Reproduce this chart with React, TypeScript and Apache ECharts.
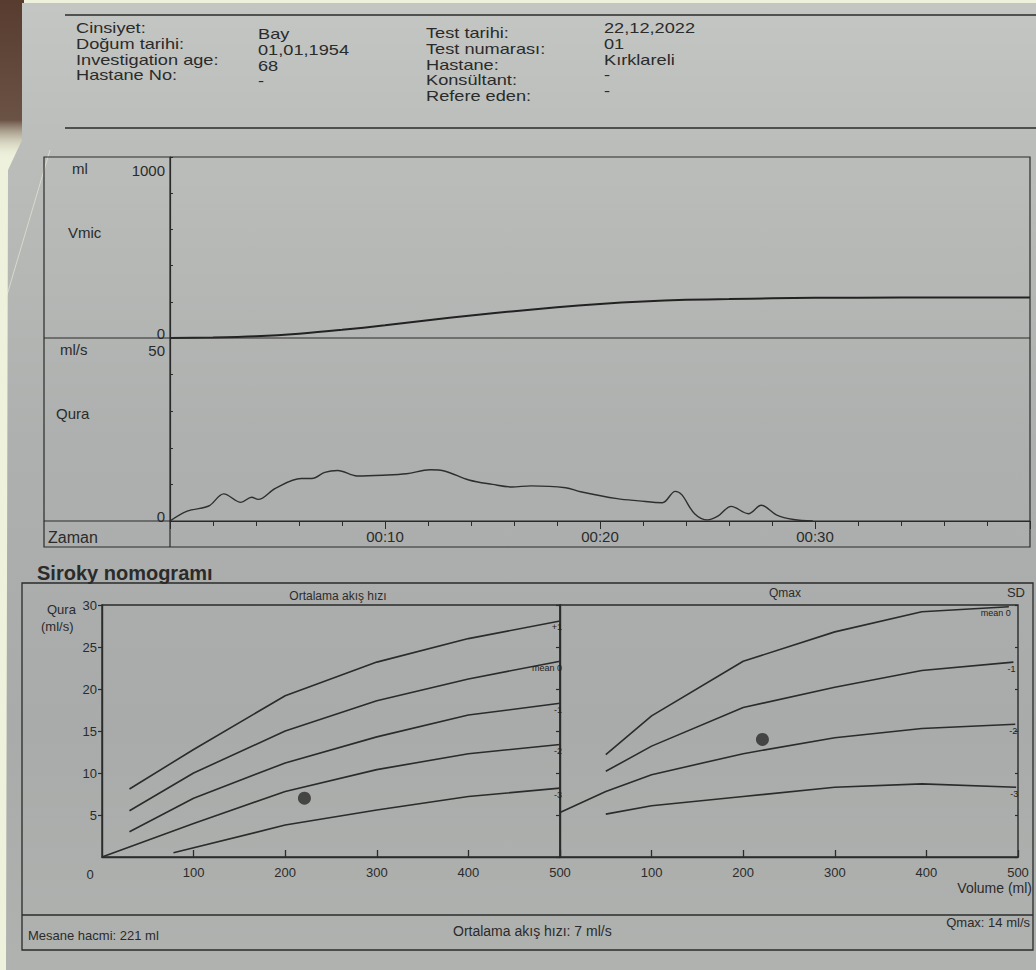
import React, { useEffect, useRef } from "react";
import * as echarts from "echarts";

// ---------- data ----------
const headerLabelsLeft = ["Cinsiyet:", "Doğum tarihi:", "Investigation age:", "Hastane No:"];
const headerValuesLeft = ["Bay", "01,01,1954", "68", "-"];
const headerLabelsRight = ["Test tarihi:", "Test numarası:", "Hastane:", "Konsültant:", "Refere eden:"];
const headerValuesRight = ["22,12,2022", "01", "Kırklareli", "-", "-"];

// voided volume (ml) over time (s)
const vmicTime = [0, 2, 4, 6, 8, 10, 12, 14, 16, 18, 20, 22, 24, 26, 28, 30, 32, 36, 40];
const vmicVolume = [0, 3, 10, 24, 45, 70, 98, 124, 148, 170, 188, 202, 211, 215, 219, 222, 223, 224, 224];

// flow rate (ml/s) over time (s)
const flowTime = [0, 0.8, 1.8, 2.5, 3.3, 3.8, 4.1, 4.9, 6.1, 6.6, 7.2, 7.8, 8.7, 9.9, 11.0, 12.1, 12.8, 13.9, 15.0, 15.9, 16.8, 18.4, 19.1, 20.8, 21.8, 22.9, 23.5, 23.8, 24.4, 25.0, 25.5, 26.1, 26.9, 27.5, 28.2, 29.0, 29.9];
const flowRate = [0, 2.7, 4.1, 7.4, 5.1, 6.5, 5.9, 8.9, 11.6, 11.6, 13.3, 13.8, 12.3, 12.5, 12.9, 14.0, 13.6, 11.2, 10.0, 9.3, 9.6, 9.1, 8.0, 6.1, 5.5, 5.0, 8.1, 7.2, 2.0, 0.3, 1.4, 4.0, 2.0, 4.3, 1.7, 0.4, 0];

// Siroky nomogram – average flow rate (left)
const avgVolume = [30, 100, 200, 300, 400, 500];
const avgPlus1 = [8.1, 12.8, 19.2, 23.2, 26.0, 28.1];
const avgMean0 = [5.5, 10.0, 15.0, 18.6, 21.2, 23.3];
const avgMinus1 = [3.0, 7.0, 11.2, 14.3, 16.9, 18.3];
const avgMinus2Volume = [0, 100, 200, 300, 400, 500];
const avgMinus2 = [0, 4.0, 7.8, 10.4, 12.3, 13.4];
const avgMinus3Volume = [78, 200, 300, 400, 500];
const avgMinus3 = [0.5, 3.8, 5.6, 7.2, 8.2];

// Siroky nomogram – Qmax (right)
const qMean0Volume = [50, 100, 200, 300, 395, 490];
const qMean0 = [12.2, 16.8, 23.3, 26.8, 29.2, 29.8];
const qMinus1Volume = [50, 100, 200, 300, 395, 495];
const qMinus1 = [10.2, 13.2, 17.8, 20.2, 22.2, 23.2];
const qMinus2Volume = [0, 50, 100, 200, 300, 395, 497];
const qMinus2 = [5.3, 7.8, 9.8, 12.3, 14.2, 15.3, 15.8];
const qMinus3Volume = [50, 100, 200, 300, 395, 498];
const qMinus3 = [5.1, 6.1, 7.2, 8.3, 8.7, 8.3];

const patientVolume = 221;
const patientAvgFlow = 7;
const patientQmax = 14;

// ---------- style ----------
const FONT = '"Liberation Sans", Arial, sans-serif';
const INK = "#2a2b2b";

function txt(x: number, y: number, text: string, size: number, opts: any = {}) {
  return {
    type: "text",
    x,
    y,
    z: 20,
    silent: true,
    scaleX: opts.scaleX || 1,
    style: {
      text,
      fill: opts.color || INK,
      fontSize: size,
      fontFamily: FONT,
      fontWeight: opts.bold ? "bold" : "normal",
      align: opts.align || "left",
      verticalAlign: "middle",
    },
  };
}
function ln(x1: number, y1: number, x2: number, y2: number, w = 1.3, color = INK) {
  return { type: "line", z: 15, silent: true, shape: { x1, y1, x2, y2 }, style: { stroke: color, lineWidth: w } };
}
function box(x: number, y: number, w: number, h: number, lw = 1.3) {
  return { type: "rect", z: 15, silent: true, shape: { x, y, width: w, height: h }, style: { fill: "none", stroke: INK, lineWidth: lw } };
}

function pairs(xs: number[], ys: number[]) {
  return xs.map((x, i) => [x, ys[i]]);
}

function nomoLine(name: string, xi: number, yi: number, xs: number[], ys: number[], label: string) {
  return {
    type: "line",
    name,
    xAxisIndex: xi,
    yAxisIndex: yi,
    data: pairs(xs, ys),
    symbol: "none",
    silent: true,
    color: INK,
    lineStyle: { color: INK, width: 1.6 },
    endLabel: {
      show: true,
      formatter: label,
      fontSize: 9,
      fontFamily: FONT,
      color: "#222",
      align: "right",
      verticalAlign: "top",
      offset: [-6, 2],
    },
  };
}

export default function App() {
  const ref = useRef<HTMLDivElement>(null);

  useEffect(() => {
    document.body.style.margin = "0";
    const chart = echarts.init(ref.current!, undefined, { renderer: "svg" });

    const graphics: any[] = [];
    // backgrounds
    graphics.push({ type: "rect", z: -100, silent: true, shape: { x: 0, y: 0, width: 1036, height: 970 }, style: { fill: "#eef2dc" } });
    graphics.push({
      type: "rect",
      z: -95,
      silent: true,
      shape: { x: 0, y: 0, width: 24, height: 160 },
      style: {
        fill: new echarts.graphic.LinearGradient(0, 0, 0, 1, [
          { offset: 0, color: "#573c2f" },
          { offset: 0.75, color: "#6a5245" },
          { offset: 1, color: "rgba(238,242,220,0)" },
        ]),
      },
    });
    graphics.push({
      type: "polygon",
      z: -90,
      silent: true,
      shape: { points: [[22, 3], [1036, 3], [1036, 970], [6, 970], [8, 170], [22, 140]] },
      style: {
        fill: new echarts.graphic.LinearGradient(0, 0, 0, 1, [
          { offset: 0, color: "#c4c6c3" },
          { offset: 0.15, color: "#bbbdba" },
          { offset: 0.45, color: "#aeb0af" },
          { offset: 0.75, color: "#a9abaa" },
          { offset: 1, color: "#b0b2b0" },
        ]),
      },
    });
    graphics.push({ type: "line", z: -70, silent: true, shape: { x1: 2, y1: 312, x2: 50, y2: 150 }, style: { stroke: "rgba(236,240,218,0.6)", lineWidth: 1 } });

    // header
    graphics.push(ln(65, 15, 1036, 15, 1.6));
    graphics.push(ln(65, 128, 1036, 128, 1.6));
    const hy = [28, 44, 60, 75, 91];
    const SX = 1.3;
    headerLabelsLeft.forEach((s, i) => graphics.push(txt(76, hy[i], s, 14, { scaleX: SX })));
    headerValuesLeft.forEach((s, i) => graphics.push(txt(258, hy[i] + 6, s, 14, { scaleX: SX })));
    headerLabelsRight.forEach((s, i) => graphics.push(txt(426, hy[i] + 5, s, 14, { scaleX: SX })));
    headerValuesRight.forEach((s, i) => graphics.push(txt(604, hy[i], s, 14, { scaleX: SX })));

    // upper chart frame
    graphics.push(box(44, 157, 986, 390, 1.2));
    graphics.push(ln(44, 338, 1030, 338, 1.2));
    graphics.push(ln(44, 521, 1030, 521, 1.2));
    graphics.push(ln(170, 157, 170, 547, 1.2));
    graphics.push(txt(72, 168, "ml", 15));
    graphics.push(txt(68, 232, "Vmic", 15));
    graphics.push(txt(60, 349, "ml/s", 15));
    graphics.push(txt(56, 413, "Qura", 15));
    graphics.push(txt(48, 537, "Zaman", 16));

    // nomogram frame
    graphics.push(txt(37, 573, "Siroky nomogramı", 20, { bold: true }));
    graphics.push(box(22, 583, 1011, 367, 1.3));
    graphics.push(ln(22, 915, 1033, 915, 1.3));
    graphics.push(txt(338, 596, "Ortalama akış hızı", 12, { align: "center" }));
    graphics.push(txt(785, 593, "Qmax", 12, { align: "center" }));
    graphics.push(txt(1025, 592, "SD", 13, { align: "right" }));
    graphics.push(txt(47, 609, "Qura", 13));
    graphics.push(txt(41, 626, "(ml/s)", 13));
    graphics.push(txt(90, 874, "0", 13, { align: "center" }));
    graphics.push(txt(1032, 888, "Volume (ml)", 14, { align: "right" }));
    graphics.push(txt(28, 935, "Mesane hacmi: " + patientVolume + " ml", 13));
    graphics.push(txt(453, 931, "Ortalama akış hızı: " + patientAvgFlow + " ml/s", 14));
    graphics.push(txt(1030, 922, "Qmax: " + patientQmax + " ml/s", 13, { align: "right" }));

    const axisText = { color: INK, fontFamily: FONT };
    const pad2 = (v: number) => (v < 10 ? "0" + v : "" + v);

    const option: any = {
      animation: false,
      textStyle: { fontFamily: FONT },
      grid: [
        { left: 170, top: 157, width: 860, height: 181, show: false },
        { left: 170, top: 338, width: 860, height: 183, show: false },
        { left: 102, top: 605, width: 458, height: 252, show: true, borderColor: INK, borderWidth: 1.4, backgroundColor: "transparent" },
        { left: 560, top: 605, width: 458, height: 252, show: true, borderColor: INK, borderWidth: 1.4, backgroundColor: "transparent" },
      ],
      xAxis: [
        { type: "value", gridIndex: 0, min: 0, max: 40, show: false },
        {
          type: "value",
          gridIndex: 1,
          min: 0,
          max: 40,
          interval: 10,
          axisLine: { show: true, lineStyle: { color: INK, width: 1.2 } },
          axisTick: { show: true, length: 8, lineStyle: { color: INK } },
          minorTick: { show: true, splitNumber: 5, length: 5, lineStyle: { color: INK } },
          splitLine: { show: false },
          axisLabel: {
            ...axisText,
            fontSize: 15,
            margin: 8,
            formatter: (v: number) => (v === 0 || v === 40 ? "" : "00:" + pad2(v)),
          },
        },
        {
          type: "value",
          gridIndex: 2,
          min: 0,
          max: 500,
          interval: 100,
          axisLine: { show: true, lineStyle: { color: INK, width: 1.4 } },
          axisTick: { show: true, inside: true, length: 7, lineStyle: { color: INK, width: 1.3 } },
          splitLine: { show: false },
          axisLabel: { ...axisText, fontSize: 13, margin: 9, showMinLabel: false },
        },
        {
          type: "value",
          gridIndex: 3,
          min: 0,
          max: 500,
          interval: 100,
          axisLine: { show: true, lineStyle: { color: INK, width: 1.4 } },
          axisTick: { show: true, inside: true, length: 7, lineStyle: { color: INK, width: 1.3 } },
          splitLine: { show: false },
          axisLabel: { ...axisText, fontSize: 13, margin: 9, showMinLabel: false },
        },
      ],
      yAxis: [
        {
          type: "value",
          gridIndex: 0,
          min: 0,
          max: 1000,
          interval: 200,
          axisLine: { show: true, lineStyle: { color: INK, width: 1.2 } },
          axisTick: { show: true, inside: true, length: 3, lineStyle: { color: INK } },
          splitLine: { show: false },
          axisLabel: {
            ...axisText,
            fontSize: 15,
            margin: 5,
            formatter: (v: number) => (v === 1000 ? "{t|1000}" : v === 0 ? "{b|0}" : ""),
            rich: {
              t: { fontSize: 15, color: INK, fontFamily: FONT, padding: [26, 0, 0, 0] },
              b: { fontSize: 15, color: INK, fontFamily: FONT, padding: [0, 0, 10, 0] },
            },
          },
        },
        {
          type: "value",
          gridIndex: 1,
          min: 0,
          max: 50,
          interval: 10,
          axisLine: { show: true, lineStyle: { color: INK, width: 1.2 } },
          axisTick: { show: true, inside: true, length: 3, lineStyle: { color: INK } },
          splitLine: { show: false },
          axisLabel: {
            ...axisText,
            fontSize: 15,
            margin: 5,
            formatter: (v: number) => (v === 50 ? "{t|50}" : v === 0 ? "{b|0}" : ""),
            rich: {
              t: { fontSize: 15, color: INK, fontFamily: FONT, padding: [24, 0, 0, 0] },
              b: { fontSize: 15, color: INK, fontFamily: FONT, padding: [0, 0, 10, 0] },
            },
          },
        },
        {
          type: "value",
          gridIndex: 2,
          min: 0,
          max: 30,
          interval: 5,
          axisLine: { show: true, lineStyle: { color: INK, width: 1.4 } },
          axisTick: { show: true, length: 4, lineStyle: { color: INK, width: 1.2 } },
          splitLine: { show: false },
          axisLabel: { ...axisText, fontSize: 13, margin: 5, showMinLabel: false },
        },
        {
          type: "value",
          gridIndex: 3,
          min: 0,
          max: 30,
          interval: 5,
          axisLine: { show: true, lineStyle: { color: INK, width: 1.4 } },
          axisTick: { show: true, length: 4, lineStyle: { color: INK, width: 1.2 } },
          splitLine: { show: false },
          axisLabel: { show: false },
        },
        {
          type: "value",
          gridIndex: 3,
          min: 0,
          max: 30,
          interval: 5,
          axisLine: { show: false },
          axisTick: { show: true, inside: true, length: 3, lineStyle: { color: INK, width: 1.2 } },
          splitLine: { show: false },
          axisLabel: { show: false },
        },
      ],
      graphic: graphics,
      series: [
        {
          type: "line",
          name: "Vmic",
          xAxisIndex: 0,
          yAxisIndex: 0,
          data: pairs(vmicTime, vmicVolume),
          symbol: "none",
          smooth: 0.3,
          silent: true,
          lineStyle: { color: "#222", width: 2 },
        },
        {
          type: "line",
          name: "Qura",
          xAxisIndex: 1,
          yAxisIndex: 1,
          data: pairs(flowTime, flowRate),
          symbol: "none",
          smooth: 0.35,
          silent: true,
          lineStyle: { color: "#2e2e2e", width: 1.4 },
        },
        nomoLine("avg +1", 2, 2, avgVolume, avgPlus1, "+1"),
        nomoLine("avg mean 0", 2, 2, avgVolume, avgMean0, "mean 0"),
        nomoLine("avg -1", 2, 2, avgVolume, avgMinus1, "-1"),
        nomoLine("avg -2", 2, 2, avgMinus2Volume, avgMinus2, "-2"),
        nomoLine("avg -3", 2, 2, avgMinus3Volume, avgMinus3, "-3"),
        nomoLine("qmax mean 0", 3, 3, qMean0Volume, qMean0, "mean 0"),
        nomoLine("qmax -1", 3, 3, qMinus1Volume, qMinus1, "-1"),
        nomoLine("qmax -2", 3, 3, qMinus2Volume, qMinus2, "-2"),
        nomoLine("qmax -3", 3, 3, qMinus3Volume, qMinus3, "-3"),
        {
          type: "scatter",
          name: "Ortalama akış hızı",
          xAxisIndex: 2,
          yAxisIndex: 2,
          data: [[patientVolume, patientAvgFlow]],
          symbolSize: 13,
          silent: true,
          itemStyle: { color: "#2b2b2b" },
        },
        {
          type: "scatter",
          name: "Qmax",
          xAxisIndex: 3,
          yAxisIndex: 3,
          data: [[patientVolume, patientQmax]],
          symbolSize: 13,
          silent: true,
          itemStyle: { color: "#2b2b2b" },
        },
      ],
    };

    chart.setOption(option);
    return () => chart.dispose();
  }, []);

  return <div ref={ref} style={{ width: 1036, height: 970 }} />;
}
